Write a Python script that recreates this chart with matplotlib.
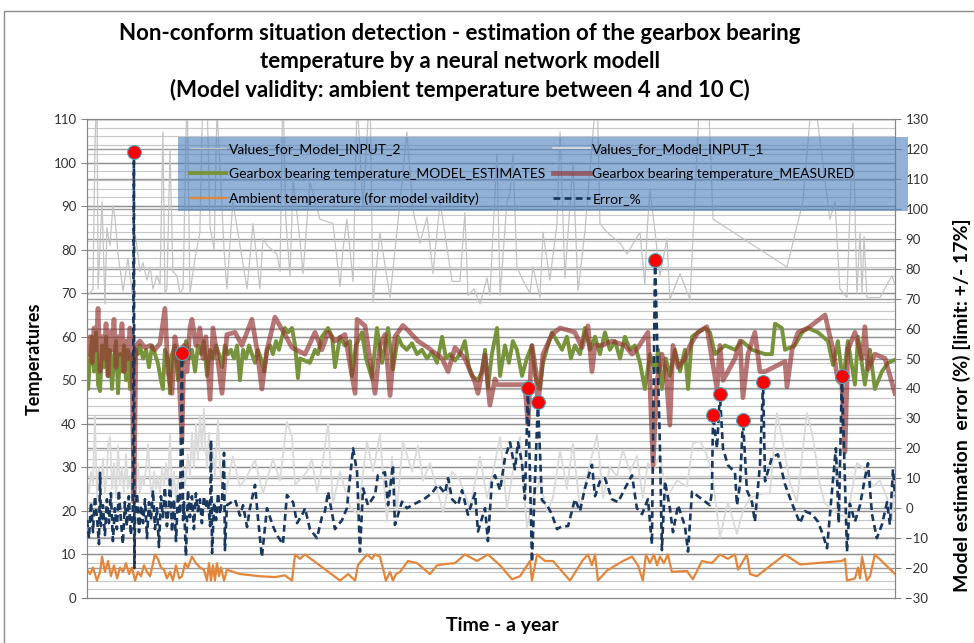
import numpy as np
import matplotlib.pyplot as plt
import matplotlib.transforms as mtransforms
from matplotlib.patches import Rectangle

plt.rcParams['font.family'] = ['Lato', 'DejaVu Sans']

# ---- data: (day of year, value) ----
# temperatures on the left axis, error on the right axis (%)
input2 = [(0, 69.5), (1.4, 70), (2.7, 71), (3.6, 104), (4.5, 118), (5.0, 71), (6.8, 91), (8.1, 67.5),
          (9.0, 85), (10.4, 81), (11.7, 90), (12.6, 87.5), (14.0, 79), (16.3, 70.5), (18.5, 78),
          (20.8, 68.5), (21.7, 84), (23.0, 79), (23.9, 75), (25.3, 77), (27.1, 73), (28.5, 76),
          (29.8, 71), (31.6, 74), (33.0, 72), (34.3, 107), (35.2, 70), (36.1, 71), (37.5, 103),
          (38.8, 75), (40.6, 74), (42.0, 70), (43.4, 71), (45.2, 118), (46.5, 70), (48.8, 78),
          (51.0, 84), (52.4, 118), (54.2, 115), (55.6, 85), (57.4, 80), (58.7, 112), (60.1, 99),
          (61.9, 80), (63.2, 71), (65.9, 91), (69.1, 81), (72.3, 71), (75.0, 86), (78.1, 71),
          (79.5, 82.5), (81.3, 81), (85.8, 79), (87.2, 75), (88.5, 118), (89.8, 87), (91.7, 74),
          (93.1, 96), (96.2, 82), (97.6, 74.5), (100.7, 95.5), (105.2, 87), (111.1, 86), (114.3, 71.5),
          (115.6, 80), (117.4, 87), (120.2, 72.7), (122.0, 115), (124.7, 89), (127.8, 118), (129.2, 68),
          (132.3, 84), (136.9, 69), (141.4, 91), (144.5, 107), (147.3, 89), (150.4, 81.5), (153.6, 87.5),
          (156.3, 74.5), (159.5, 91), (164.9, 72.7), (168.5, 72.7), (170.7, 88.5), (172.1, 69.5),
          (174.8, 71), (177.5, 67.5), (180.7, 73.5), (182.0, 69.5), (185.2, 102), (186.6, 69.5),
          (189.7, 91), (191.1, 93), (192.4, 102), (194.2, 76), (196.9, 73), (200.1, 70), (201.5, 76),
          (204.6, 69), (206.0, 84), (209.1, 73), (212.3, 86), (213.7, 107), (215.9, 73.5), (219.5, 100),
          (221.8, 70.5), (224.9, 84), (230.4, 118), (231.7, 86), (234.9, 84), (240.8, 81.5), (243.9, 79),
          (247.5, 82), (249.8, 84), (252.0, 72), (253.0, 84), (254.3, 94), (256.6, 84), (258.8, 74),
          (262.0, 82.5), (263.3, 68.5), (267.9, 74.5), (272.4, 68.5), (276.0, 107), (276.9, 118),
          (280.5, 118), (282.8, 87), (316.2, 76), (323.4, 91), (327.9, 118), (335.6, 87), (337.9, 91),
          (340.1, 71), (343.3, 69), (346.0, 109), (347.8, 70), (349.2, 84), (350.1, 70), (351.0, 83),
          (352.3, 69), (358.2, 69), (363.6, 74), (365, 72)]

input1 = [(0, 27), (0.9, 24), (1.8, 29), (2.7, 26), (3.6, 41.7), (4.5, 23), (5.4, 30), (6.3, 25),
          (7.2, 32), (8.1, 24), (9.0, 28), (9.5, 34.7), (10.4, 37), (11.3, 25), (12.2, 31), (13.1, 23),
          (14.0, 35), (14.9, 26), (15.8, 30), (16.7, 24), (17.6, 33), (18.5, 25), (19.4, 28), (20.3, 23),
          (21.2, 29), (22.1, 25), (23.0, 31), (23.9, 24), (24.8, 28), (25.7, 26), (26.7, 30), (27.6, 35.3),
          (28.5, 27), (29.4, 23), (30.3, 29), (31.2, 25), (32.0, 28), (33.0, 24), (33.9, 30), (34.8, 26),
          (35.7, 31), (36.6, 27), (37.5, 37.5), (38.4, 24), (39.3, 29), (40.2, 22), (41.1, 27), (42.0, 25),
          (43.4, 30), (44.3, 26), (45.6, 33), (46.5, 28), (47.4, 38), (48.3, 30), (49.2, 40), (50.1, 32),
          (51.0, 42), (51.9, 34), (52.8, 43.5), (53.3, 36), (54.2, 30), (55.1, 38), (56.0, 27), (56.9, 34),
          (57.8, 28), (59.2, 41), (60.1, 30), (61.0, 25), (62.3, 23), (63.7, 27), (65.9, 32.5),
          (69.1, 25.6), (72.3, 28), (75.9, 31.7), (79.5, 24), (84.0, 32), (87.2, 27), (90.3, 40.5),
          (92.6, 37), (94.0, 26), (99.4, 29), (101.6, 32), (103.9, 24.4), (106.1, 30), (108.9, 40),
          (111.1, 21.7), (114.3, 29), (118.8, 20.9), (122.4, 19.2), (126.5, 36), (129.2, 29), (132.3, 37.5),
          (135.5, 17.5), (137.8, 32.4), (140.0, 20), (142.7, 36), (146.8, 29), (149.5, 35), (151.8, 27),
          (154.9, 31), (158.1, 25), (160.8, 19.7), (164.9, 29), (168.5, 27), (173.0, 20.5), (177.5, 32.5),
          (180.7, 23), (183.4, 29), (186.6, 37), (189.7, 20.5), (192.4, 29), (195.6, 37), (198.7, 16.2),
          (201.5, 23), (204.6, 27), (207.8, 19.7), (210.5, 23), (213.7, 34), (216.8, 25), (219.5, 35.5),
          (222.7, 20.5), (225.9, 28), (230.4, 37.5), (233.1, 23), (236.2, 30), (239.4, 28), (242.1, 34),
          (245.3, 29), (248.4, 32.6), (251.1, 23), (253.4, 31), (255.7, 29), (258.8, 33), (262.0, 23),
          (266.5, 27), (271.0, 25.6), (273.7, 35.5), (276.9, 36), (279.1, 34), (282.3, 29), (285.9, 13.9),
          (289.5, 22), (293.6, 14.7), (296.3, 20), (299.5, 23), (305.4, 24), (308.5, 24), (311.7, 42.5),
          (314.4, 35.5), (317.6, 26.5), (320.7, 22), (325.2, 42.5), (327.9, 37), (331.1, 26), (333.4, 21.7),
          (337.0, 20), (343.3, 18.4), (347.8, 31), (352.3, 29), (355.0, 25.6), (358.2, 27), (361.4, 23),
          (363.6, 17.6), (365, 28)]

estimates = [(0, 50), (0.5, 48), (1.4, 55), (2.3, 60), (3.2, 52), (4.1, 61), (5.0, 49), (5.9, 47.5),
             (6.8, 58), (7.7, 53), (8.6, 60), (9.5, 51), (10.4, 57), (11.3, 48), (12.2, 55), (13.1, 59),
             (14.0, 47), (14.9, 56), (15.8, 52), (16.7, 58), (17.6, 50), (18.5, 57), (19.4, 48), (20.3, 56),
             (21.2, 53), (22.1, 57), (23.0, 56), (23.9, 58), (25.3, 55), (26.7, 57), (28.0, 53), (29.4, 58),
             (30.7, 56), (32.0, 54), (33.4, 50), (34.3, 48), (35.2, 57), (36.6, 55), (37.5, 47), (38.4, 56),
             (39.7, 58), (41.1, 50), (42.0, 57), (43.4, 54), (44.7, 59), (46.1, 55), (47.4, 57), (48.8, 52),
             (50.1, 58), (51.5, 56), (52.8, 59), (54.2, 51), (55.6, 57), (56.9, 55), (58.3, 58), (59.6, 56),
             (61.0, 53), (62.3, 58), (63.7, 56), (65.0, 57), (66.4, 55), (67.8, 58), (69.1, 50), (70.5, 57),
             (71.8, 55), (73.2, 58), (74.5, 56), (75.9, 54), (77.2, 57), (78.6, 55), (80.0, 52), (81.3, 57),
             (82.7, 58), (84.0, 56), (85.4, 59), (86.7, 57), (88.1, 60), (89.4, 62), (90.8, 61), (92.6, 62),
             (94.0, 58), (95.3, 50.5), (96.2, 55), (98.5, 54.5), (100.7, 54), (103.0, 57), (104.3, 56),
             (106.1, 60), (108.9, 62), (110.7, 60), (112.0, 53), (114.3, 60), (116.5, 58), (118.8, 59),
             (119.7, 51), (121.5, 58), (124.2, 61), (126.0, 55), (128.7, 50.5), (131.0, 62), (133.3, 54),
             (136.0, 62), (138.2, 52.5), (140.5, 60), (142.3, 58), (144.5, 57), (146.8, 58.5), (149.1, 56),
             (151.3, 57), (153.6, 55), (155.8, 56.5), (158.1, 54), (160.4, 60), (162.2, 55), (164.0, 56),
             (166.2, 54.5), (168.5, 56), (170.7, 59), (172.5, 53), (173.9, 51), (176.6, 50), (178.4, 52),
             (179.8, 57), (181.1, 48.3), (182.9, 56), (185.2, 62), (186.6, 51), (188.8, 58), (190.6, 54),
             (192.4, 59), (194.2, 57), (196.5, 51), (198.7, 55), (201.0, 58), (202.4, 51), (204.6, 48),
             (206.0, 54), (208.2, 58), (210.0, 61), (212.3, 59), (214.6, 57), (216.8, 60), (218.6, 55),
             (220.4, 58), (222.7, 56), (224.9, 62), (227.2, 57), (229.5, 60), (231.7, 56), (234.0, 61),
             (236.2, 57), (238.5, 59), (240.8, 55), (243.0, 60), (245.3, 57), (247.5, 58), (249.8, 54),
             (252.0, 48), (254.3, 56), (256.6, 52), (258.0, 57), (259.7, 48), (261.5, 55), (263.3, 51),
             (265.6, 57), (267.9, 52), (270.1, 57), (271.5, 48), (273.3, 60), (276.0, 61), (279.1, 62),
             (281.4, 61), (283.7, 56), (285.9, 57), (288.2, 58), (292.7, 57), (295.9, 59), (300.4, 57),
             (306.3, 56), (309.4, 56), (310.8, 63), (313.9, 62), (315.3, 57), (319.8, 58), (323.0, 61),
             (325.7, 62), (330.2, 61), (334.7, 59), (337.0, 53.5), (339.2, 59), (341.5, 49.5), (343.7, 59),
             (346.9, 49), (348.3, 60), (351.4, 49), (353.7, 57), (355.9, 48), (359.1, 52), (361.8, 54),
             (365, 54.7)]

measured = [(0, 56), (1.4, 60), (2.3, 54), (3.2, 62), (4.1, 57), (5.0, 66.5), (5.9, 52), (6.8, 60),
            (7.7, 55), (8.6, 63), (9.5, 51), (10.4, 61), (11.3, 57), (12.2, 64), (13.1, 53), (14.0, 60),
            (14.9, 56), (15.8, 63), (16.7, 52), (17.6, 59), (18.5, 55), (19.4, 62), (20.3, 57), (21.2, 22),
            (22.1, 58), (23.9, 59), (26.2, 57.5), (28.5, 58), (30.7, 57), (33.0, 58.5), (35.2, 66.5),
            (36.6, 52), (38.4, 47), (39.7, 60), (41.1, 56), (42.9, 36), (43.8, 58), (45.2, 52), (46.5, 62),
            (47.4, 64), (49.2, 58), (51.0, 62), (52.4, 55), (53.7, 60), (55.6, 45.6), (56.9, 62), (58.7, 56),
            (61.0, 47), (63.2, 60.5), (66.9, 61), (70.0, 58), (74.5, 64), (76.8, 57), (79.0, 48), (81.3, 57),
            (84.9, 64.5), (89.4, 60.5), (92.6, 57.5), (98.5, 56), (103.0, 61), (106.1, 57), (108.9, 61),
            (112.0, 59), (116.5, 60.5), (121.1, 47), (122.0, 64), (125.6, 62.5), (130.1, 47), (132.3, 58),
            (134.6, 60.5), (136.9, 46.5), (139.1, 60), (142.7, 62.6), (145.9, 61), (149.5, 59), (154.0, 57.5),
            (160.4, 55), (163.1, 52), (166.2, 57.5), (170.7, 55), (175.3, 49.5), (176.6, 47), (179.8, 55.8),
            (182.0, 44.3), (184.3, 50.3), (185.2, 49), (197.8, 49), (199.2, 40), (201.0, 58), (202.8, 52),
            (203.7, 44), (206.0, 56), (210.0, 60.5), (213.7, 62), (217.3, 61.5), (220.4, 61), (223.6, 57.5),
            (226.3, 62.5), (228.1, 52), (229.5, 58), (232.6, 58), (237.1, 59), (243.0, 58), (246.2, 56),
            (248.9, 57.5), (253.4, 61), (255.7, 30.5), (257.5, 50), (259.7, 56), (261.5, 52), (263.3, 39.7),
            (264.7, 58), (267.0, 53), (270.1, 55), (272.4, 58), (276.0, 61), (280.0, 62.3), (282.3, 55),
            (284.6, 48), (285.9, 58), (287.3, 50), (289.5, 52), (292.7, 55), (295.0, 59), (296.3, 46),
            (298.6, 56), (301.7, 61), (304.0, 52), (306.3, 52), (315.3, 54.3), (316.2, 48.5), (318.5, 57),
            (321.2, 61), (325.7, 62), (333.4, 65), (337.0, 57), (339.2, 50), (341.0, 49), (342.4, 33.5),
            (343.7, 57), (346.9, 61), (350.1, 55), (351.4, 62.3), (352.8, 52.5), (355.9, 56), (360.5, 55),
            (365, 47)]

ambient = [(0, 6.5), (1.4, 5.5), (2.7, 7), (4.5, 4), (5.9, 6), (6.8, 9.5), (8.1, 6), (9.5, 8.5),
           (10.8, 5), (12.2, 7.5), (13.6, 4.5), (14.9, 7), (16.3, 6), (17.6, 8), (19.0, 5.5), (20.3, 7),
           (21.7, 4), (23.0, 6), (24.4, 5), (25.7, 7.5), (27.1, 6), (28.5, 5), (29.8, 8), (30.7, 10),
           (32.0, 9), (33.4, 7), (34.8, 6.5), (36.1, 4.5), (37.5, 6), (38.8, 4), (40.2, 7.5), (41.6, 4.5),
           (42.9, 5), (44.3, 8), (45.6, 7), (47.4, 9.5), (49.2, 8), (51.0, 7), (52.8, 6.5), (54.2, 4),
           (55.1, 8), (56.0, 4), (56.9, 7.5), (57.8, 4), (58.7, 8), (59.6, 5), (60.5, 7), (61.9, 4),
           (63.2, 6.5), (69.1, 5.5), (78.1, 5), (85.0, 4.8), (89.4, 5.2), (92.6, 4), (94.0, 10), (96.2, 9),
           (98.5, 10), (109.8, 5.7), (114.3, 4), (118.0, 5.5), (121.1, 4), (122.4, 7.6), (126.5, 10),
           (128.7, 9), (130.1, 10), (132.3, 9.5), (134.1, 6), (135.0, 4), (136.9, 6), (138.2, 4),
           (139.6, 5.5), (141.4, 6), (145.0, 8.5), (149.1, 8), (154.9, 5.5), (158.1, 7.5), (161.7, 7.8),
           (166.2, 8), (170.7, 10), (176.2, 8.5), (181.1, 10), (186.6, 7.5), (192.0, 4.3), (195.6, 5),
           (200.1, 8.5), (201.0, 4), (203.3, 10), (206.9, 8.5), (210.5, 8.5), (218.2, 4), (224.0, 8.7),
           (226.3, 10), (228.1, 7.5), (229.5, 10), (230.8, 4), (234.9, 6.3), (242.1, 8.5), (246.2, 9.5),
           (248.9, 7.5), (251.1, 4), (252.5, 10), (254.3, 8), (256.1, 10), (257.5, 7.5), (258.8, 9.5),
           (260.6, 8), (262.4, 10), (264.2, 6), (271.0, 6.2), (273.7, 4.3), (277.8, 8.5), (282.3, 8),
           (285.9, 10), (289.5, 9), (292.7, 10), (294.1, 6.5), (298.1, 10), (299.5, 5.5), (302.6, 5),
           (315.3, 10), (322.1, 7.7), (341.0, 8.5), (342.4, 9), (343.3, 4), (346.9, 4.5), (348.3, 7),
           (349.2, 4.5), (350.1, 9.5), (352.3, 4), (353.7, 5), (355.9, 10), (365, 5.5)]

error_pct = [(0, -4), (0.9, -10), (1.8, 2), (2.7, -8), (3.6, 4), (4.5, -3), (5.4, -12), (5.9, 11.8),
             (6.3, -6), (7.2, 1), (8.1, -9), (9.0, 3), (9.9, -5), (10.8, 5), (11.7, -11), (12.6, 0),
             (13.5, -7), (14.4, 6), (15.3, -4), (16.2, -12), (17.1, 2), (18.0, -6), (18.9, 4), (19.8, -9),
             (20.7, -2), (21.2, 119), (21.4, -20), (21.7, -3), (22.6, 5), (23.5, -8), (24.4, 1), (25.3, -5),
             (26.2, 3), (27.1, -10), (28.0, 2), (28.9, -4), (29.8, 6), (30.7, -7), (31.6, 0), (32.5, -13),
             (33.4, 4), (34.3, -3), (35.2, 7), (36.1, -6), (37.0, 1), (37.5, 10.5), (38.4, -8), (39.3, 3),
             (40.2, -11), (41.1, 5), (42.0, -2), (42.9, 52), (43.4, -4), (43.8, 2), (44.7, -16), (45.6, 6),
             (46.5, -3), (47.4, 4), (48.3, -7), (49.2, 5), (50.1, -1), (51.0, 3), (51.9, -5), (52.8, 4),
             (53.7, 0), (54.6, 3), (55.6, -6), (56.0, 22.8), (56.5, -15), (57.4, 2), (58.3, -4), (59.2, 5),
             (60.1, -2), (61.0, 3), (61.9, 18.5), (62.3, -14), (63.2, 1), (66.9, 2.8), (69.1, -2.5),
             (70.5, 1), (72.3, -6.3), (73.6, 0), (75.9, 7.8), (77.2, -3), (79.0, -16.3), (81.3, 0), (84.0, -6),
             (85.8, -9), (88.5, -12), (90.3, 4.4), (93.1, 2), (94.9, -5), (97.6, -1.6), (98.5, 0), (100.7, -7),
             (103.9, -10), (106.1, -3), (107.5, -1), (108.9, 5.5), (112.0, -7), (115.2, -4), (117.4, 0),
             (120.2, 20), (122.0, 12), (123.3, -14.5), (124.7, 6.6), (126.9, 1), (130.1, 4.4), (131.4, 11),
             (134.6, 12), (136.0, 1), (138.2, 14.4), (139.1, -5.6), (142.3, 2.2), (144.5, 0), (146.8, 1),
             (149.5, 2), (152.7, 3.3), (155.8, 5), (158.5, 7.8), (161.7, 5), (163.1, 10), (164.9, 3),
             (167.6, 1), (169.4, 6), (172.1, -2.2), (175.3, 5), (176.6, -7.8), (179.8, 0), (181.1, -11),
             (182.9, 9), (184.3, 11), (186.6, 6), (188.8, 16.7), (191.1, 22), (193.3, 13), (194.7, 22),
             (196.5, 15), (197.8, 3), (199.2, 40), (201.0, -18), (202.4, 10), (203.7, 35.5), (205.5, 2.7),
             (207.8, 1), (210.0, -2), (212.3, -7), (214.6, -6), (217.3, -6), (220.4, 3), (222.7, -1),
             (224.9, 6.6), (228.1, 14.5), (229.5, 4), (231.7, 9), (234.0, 10), (237.1, 3), (239.9, 2),
             (243.0, 6.6), (246.2, 11), (248.4, 0), (250.7, -2), (253.4, 3), (255.2, -12), (256.6, 83),
             (258.8, 21), (259.7, -14), (261.1, 9), (263.3, 0), (264.7, -8), (267.0, 1), (270.1, -6),
             (271.5, -14.5), (273.3, 5.5), (277.8, 3), (281.4, 1), (282.3, 5.5), (282.8, 31), (284.6, 20),
             (285.9, 38), (287.3, 20), (289.5, 14.4), (292.7, 12), (293.6, 1), (295.0, 8), (296.3, 29.5),
             (298.1, 6), (300.4, 2), (301.7, -4.5), (304.0, 14.4), (305.4, 42), (306.3, 9), (309.4, 17),
             (312.1, 18), (315.3, 8), (318.5, 1.5), (322.1, -5), (324.3, -1), (327.5, -2), (330.2, -4.5),
             (332.5, -9), (334.3, -13.4), (336.5, 5.5), (338.3, 20), (339.6, -5), (341.0, 44),
             (343.3, -14.5), (344.6, 1.5), (346.9, -4.5), (349.2, 1), (351.4, 10), (352.8, 15), (354.6, -2),
             (356.8, -10), (359.1, -5.5), (361.4, 2), (362.7, -5.5), (364.1, 13), (365, 4)]

error_limit_marker = 25  # error points above this get a red dot

title = ('Non-conform situation detection - estimation of the gearbox bearing\n'
         'temperature by a neural network modell\n'
         '(Model validity: ambient temperature between 4 and 10 C)')


def cols(pairs):
    a = np.array(pairs, dtype=float)
    return a[:, 0], a[:, 1]


W, H = 974, 643
fig = plt.figure(figsize=(W / 100, H / 100), dpi=100)
fig.patches.append(Rectangle((4 / W, -0.05), 1.0, 1.05 - 11 / H, transform=fig.transFigure,
                             fill=False, edgecolor='#8c8c8c', linewidth=1.0))

ax = fig.add_axes([87 / W, 45 / H, 808 / W, 479 / H])
ax2 = ax.twinx()

ax.set_xlim(0, 365)
ax.set_ylim(0, 110)
ax2.set_ylim(-30, 130)

# gridlines: left axis every 2 (darker every 10), right axis every 10
for v in np.arange(2, 110, 2):
    ax.axhline(v, color='#c6c6c6', lw=0.8, zorder=0)
for v in np.arange(10, 111, 10):
    ax.axhline(v, color='#8f8f8f', lw=1.0, zorder=0.1)
gtrans = mtransforms.blended_transform_factory(ax.transAxes, ax2.transData)
for r in np.arange(-20, 131, 10):
    ax.plot([0, 1], [r, r], transform=gtrans, color='#9a9a9a', lw=1.0, zorder=0.1)

t, v = cols(input2)
ax.plot(t, v, color='#c3c3c3', lw=0.9, zorder=1, label='Values_for_Model_INPUT_2')
t, v = cols(input1)
ax.plot(t, v, color='#dadada', lw=1.3, zorder=1, label='Values_for_Model_INPUT_1')
t, v = cols(estimates)
ax.plot(t, v, color='#77933c', lw=2.8, zorder=2, label='Gearbox bearing temperature_MODEL_ESTIMATES')
t, v = cols(measured)
ax.plot(t, v, color='#953735', alpha=0.68, lw=3.4, zorder=3,
        label='Gearbox bearing temperature_MEASURED')
t, v = cols(ambient)
ax.plot(t, v, color='#e3863a', lw=1.6, zorder=4, label='Ambient temperature (for model vaildity)')

t, v = cols(error_pct)
ax2.plot(t, v, color='#17375e', lw=1.9, ls=(0, (2.6, 1.6)), zorder=5, label='Error_%')
hit = v > error_limit_marker
ax2.plot(t[hit], v[hit], ls='none', marker='o', ms=10, mfc='#ff0000', mec='#4bacc6', mew=0.8, zorder=6)

# axes styling
for a in (ax, ax2):
    for s in a.spines.values():
        s.set_color('#868686')
    a.tick_params(axis='y', color='#868686', labelcolor='#333333', labelsize=9.5, length=4, width=0.8)
ax.set_xticks([])
ax.set_yticks(np.arange(0, 111, 10))
ax2.set_yticks(np.arange(-30, 131, 10))

fig.text(460 / W, 1 - 62 / H, title, ha='center', va='center', fontsize=16, fontweight='bold',
         linespacing=1.37)
fig.text(34 / W, 1 - 359 / H, 'Temperatures', rotation=90, ha='center', va='center',
         fontsize=13, fontweight='bold')
fig.text(962 / W, 1 - 405 / H, 'Model estimation  error (%) [limit: +/- 17%]', rotation=90,
         ha='center', va='center', fontsize=14, fontweight='bold')
fig.text(502 / W, 1 - 625 / H, 'Time - a year', ha='center', va='center', fontsize=14,
         fontweight='bold')

# legend: blue translucent band with two columns of entries
fig.patches.append(Rectangle((178 / W, 1 - 211 / H), (908 - 178) / W, 74 / H, transform=fig.transFigure,
                             facecolor='#4f81bd', alpha=0.62, edgecolor='none', zorder=5))
h1, l1 = ax.get_legend_handles_labels()
h2, l2 = ax2.get_legend_handles_labels()
hd = dict(zip(l1 + l2, h1 + h2))
order = ['Values_for_Model_INPUT_2', 'Gearbox bearing temperature_MODEL_ESTIMATES',
         'Ambient temperature (for model vaildity)', 'Values_for_Model_INPUT_1',
         'Gearbox bearing temperature_MEASURED', 'Error_%']
leg = fig.legend([hd[k] for k in order], order, loc='upper left', ncol=2,
                 bbox_to_anchor=(190 / W, 1 - 143 / H), fontsize=10, frameon=False,
                 handlelength=2.6, handletextpad=0.2, borderaxespad=0, borderpad=0,
                 labelspacing=0.92, columnspacing=0.6)
leg.set_zorder(10)

fig.savefig('out.png', dpi=100)
